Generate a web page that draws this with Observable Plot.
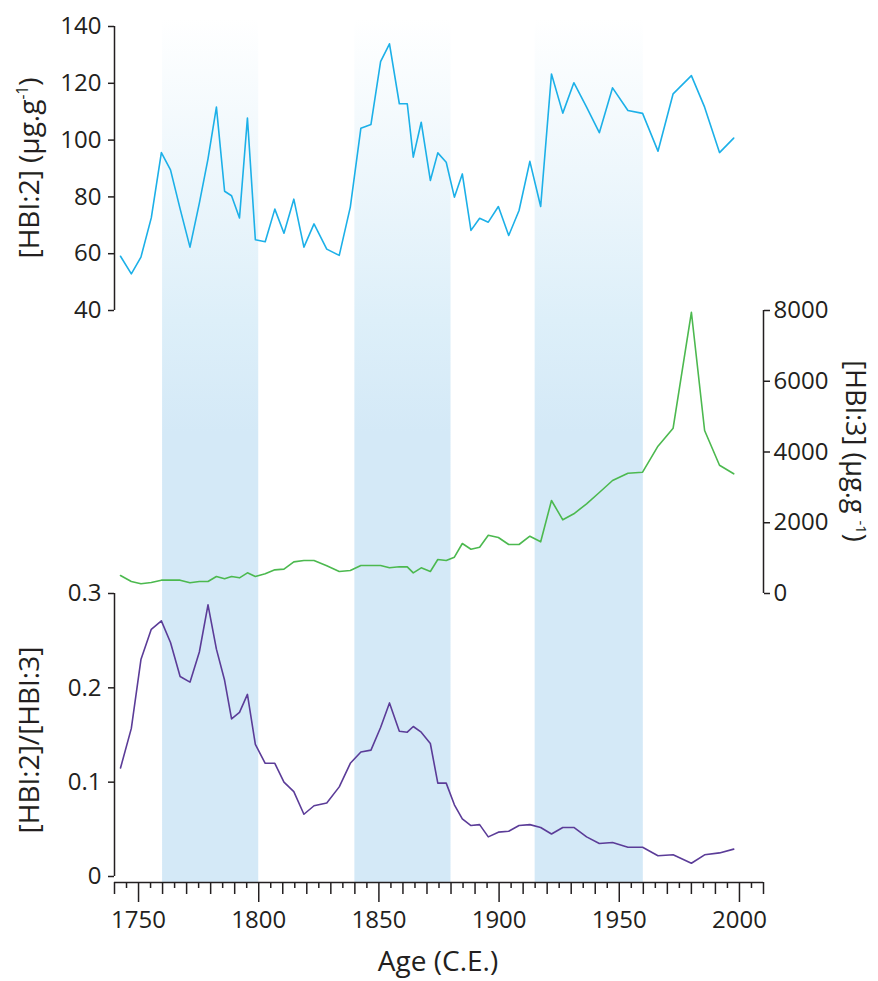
<!DOCTYPE html>
<html><head><meta charset="utf-8">
<script src="https://cdn.jsdelivr.net/npm/d3@7"></script>
<script src="https://cdn.jsdelivr.net/npm/@observablehq/plot@0.6"></script>
<style>
body{margin:0;background:#fff;}
#wrap{position:relative;width:878px;height:981px;font-family:"Open Sans",sans-serif;color:#231f20;}
#wrap svg{position:absolute;left:0;top:0;}
.lab{position:absolute;white-space:nowrap;font-size:28px;line-height:1;}
.rotL{transform:translate(-50%,-50%) rotate(-90deg);}
.rotR{transform:translate(-50%,-50%) rotate(90deg);font-size:27px;}
.hor{transform:translate(-50%,-50%);font-size:28px;}
.lab sup{font-size:0.55em;vertical-align:0.7em;line-height:0;}
</style></head><body><div id="wrap"></div><script>
// ---- data ----
const years = [1742.5,1747,1751,1755.3,1759.5,1763.3,1767.3,1771.4,1775.3,1778.9,1782.4,1785.8,1788.7,1792,1795.3,1798.6,1802.7,1806.7,1810.5,1814.6,1818.8,1823,1828.3,1833.5,1838.1,1842.5,1846.7,1850.7,1854.4,1858.5,1861.8,1864.3,1867.6,1871.4,1874.5,1878,1881.4,1884.7,1888.3,1891.9,1895.5,1899.7,1904,1908.3,1912.8,1917.3,1921.8,1926.5,1931.1,1936.4,1941.7,1947.2,1953.6,1959.7,1966.1,1972.4,1980,1985.5,1991.7,1997.6];
const hbi2 = [59.1,52.9,58.8,72.6,95.6,89.5,75.8,62.3,77.8,93.4,111.6,82.0,80.4,72.6,107.8,64.9,64.2,75.7,67.2,79.2,62.3,70.5,61.6,59.4,76.4,104.2,105.5,127.6,133.9,112.8,112.8,94.0,106.3,85.8,95.5,92.2,79.9,88.1,68.2,72.5,71.1,76.6,66.4,75.2,92.5,76.6,123.3,109.5,120.2,111.6,102.6,118.4,110.4,109.4,96.1,116.3,122.7,111.6,95.6,100.7];
const hbi3 = [509,339,274,311,377,377,377,302,339,339,481,415,481,443,584,481,556,669,688,895,933,933,782,622,650,791,791,791,726,754,754,584,726,622,961,933,1026,1413,1252,1309,1648,1583,1385,1385,1620,1461,2629,2083,2253,2536,2855,3194,3401,3429,4164,4673,7950,4608,3627,3384];
const ratio = [0.115,0.157,0.230,0.262,0.271,0.248,0.212,0.206,0.238,0.288,0.241,0.208,0.167,0.174,0.193,0.140,0.120,0.120,0.100,0.090,0.066,0.075,0.078,0.095,0.120,0.132,0.134,0.158,0.184,0.154,0.153,0.159,0.153,0.141,0.099,0.099,0.076,0.061,0.054,0.055,0.042,0.047,0.048,0.054,0.055,0.052,0.045,0.052,0.052,0.042,0.035,0.036,0.031,0.031,0.022,0.023,0.014,0.023,0.025,0.029];
const bandStart = [1760, 1840, 1915];
const bandEnd = [1800, 1880, 1960];
const yearTicks = [1750, 1800, 1850, 1900, 1950, 2000];
const hbi2Ticks = [40, 60, 80, 100, 120, 140];
const hbi3Ticks = [0, 2000, 4000, 6000, 8000];
const ratioTicks = [0, 0.1, 0.2, 0.3];

// ---- layout ----
const W = 878, H = 981, ML = 114, MR = 115;
const ink = "#231f20";
const xOpt = {domain: [1740, 2010], axis: null};
const common = {width: W, height: H, marginLeft: ML, marginRight: MR,
  style: {background: "transparent", fontFamily: "'Open Sans', sans-serif", fontSize: "24px", color: ink, overflow: "visible"}};
const wrap = document.getElementById("wrap");

const bands = bandStart.map((s, i) => ({x1: s, x2: bandEnd[i]}));
const minor5 = d3.range(1740, 2011, 5).filter(d => d % 10 !== 0);
const minor10 = d3.range(1740, 2011, 10).filter(d => d % 50 !== 0);

const base = Plot.plot({...common, marginTop: 18, marginBottom: H - 882, x: xOpt, y: {domain: [0, 1], axis: null},
  marks: [
    Plot.rect(bands, {x1: "x1", x2: "x2", fill: "url(#bandGrad)"}),
    Plot.ruleY([0], {stroke: ink, strokeWidth: 1.5}),
    Plot.axisX({ticks: minor5, tickSize: 6, tickFormat: () => "", strokeWidth: 1.5, label: null}),
    Plot.axisX({ticks: minor10, tickSize: 12, tickFormat: () => "", strokeWidth: 1.5, label: null}),
    Plot.axisX({ticks: yearTicks, tickSize: 20, tickPadding: 8, tickFormat: d3.format("d"), strokeWidth: 1.5, fontSize: 24, label: null})
  ]});
d3.select(base).insert("defs", ":first-child").html(
  `<linearGradient id="bandGrad" gradientUnits="userSpaceOnUse" x1="0" y1="18" x2="0" y2="882">
     <stop offset="0" stop-color="#ffffff"/>
     <stop offset="0.35" stop-color="#ddeff9"/>
     <stop offset="0.48" stop-color="#d4e9f7"/>
     <stop offset="1" stop-color="#d4e9f7"/>
   </linearGradient>`);
wrap.appendChild(base);

const rows = years.map((y, i) => ({year: y, a: hbi2[i], b: hbi3[i], r: ratio[i]}));

const topPlot = Plot.plot({...common, marginTop: 26, marginBottom: H - 310, x: xOpt, y: {domain: [40, 140], axis: null},
  marks: [
    Plot.ruleX([1740], {stroke: ink, strokeWidth: 1.5}),
    Plot.axisY({anchor: "left", ticks: hbi2Ticks, tickSize: 6, tickPadding: 7, tickFormat: d3.format("d"), strokeWidth: 1.5, fontSize: 24, label: null}),
    Plot.line(rows, {x: "year", y: "a", stroke: "#1cb0e8", strokeWidth: 1.6})
  ]});
wrap.appendChild(topPlot);

const midPlot = Plot.plot({...common, marginTop: 310, marginBottom: H - 593, x: xOpt, y: {domain: [0, 8000], axis: null},
  marks: [
    Plot.ruleX([2010], {stroke: ink, strokeWidth: 1.5}),
    Plot.axisY({anchor: "right", ticks: hbi3Ticks, tickSize: 6, tickPadding: 4, tickFormat: d3.format("d"), strokeWidth: 1.5, fontSize: 24, label: null}),
    Plot.line(rows, {x: "year", y: "b", stroke: "#4cb94f", strokeWidth: 1.6})
  ]});
wrap.appendChild(midPlot);

const botPlot = Plot.plot({...common, marginTop: 593, marginBottom: H - 876, x: xOpt, y: {domain: [0, 0.3], axis: null},
  marks: [
    Plot.ruleX([1740], {stroke: ink, strokeWidth: 1.5}),
    Plot.axisY({anchor: "left", ticks: ratioTicks, tickSize: 6, tickPadding: 7, tickFormat: d => String(d), strokeWidth: 1.5, fontSize: 24, label: null}),
    Plot.line(rows, {x: "year", y: "r", stroke: "#5b3c98", strokeWidth: 1.6})
  ]});
wrap.appendChild(botPlot);

// ---- axis titles ----
function addLabel(html, cls, x, y) {
  const d = document.createElement("div");
  d.className = "lab " + cls;
  d.style.left = x + "px"; d.style.top = y + "px";
  d.innerHTML = html;
  wrap.appendChild(d);
}
addLabel("[HBI:2] (µg.g<sup>-1</sup>)", "rotL", 28, 168);
addLabel("[HBI:2]/[HBI:3]", "rotL", 28, 740);
addLabel("[HBI:3] (µg.g <sup>-1</sup>)", "rotR", 856, 451);
addLabel("Age (C.E.)", "hor", 438, 960);
</script></body></html>
